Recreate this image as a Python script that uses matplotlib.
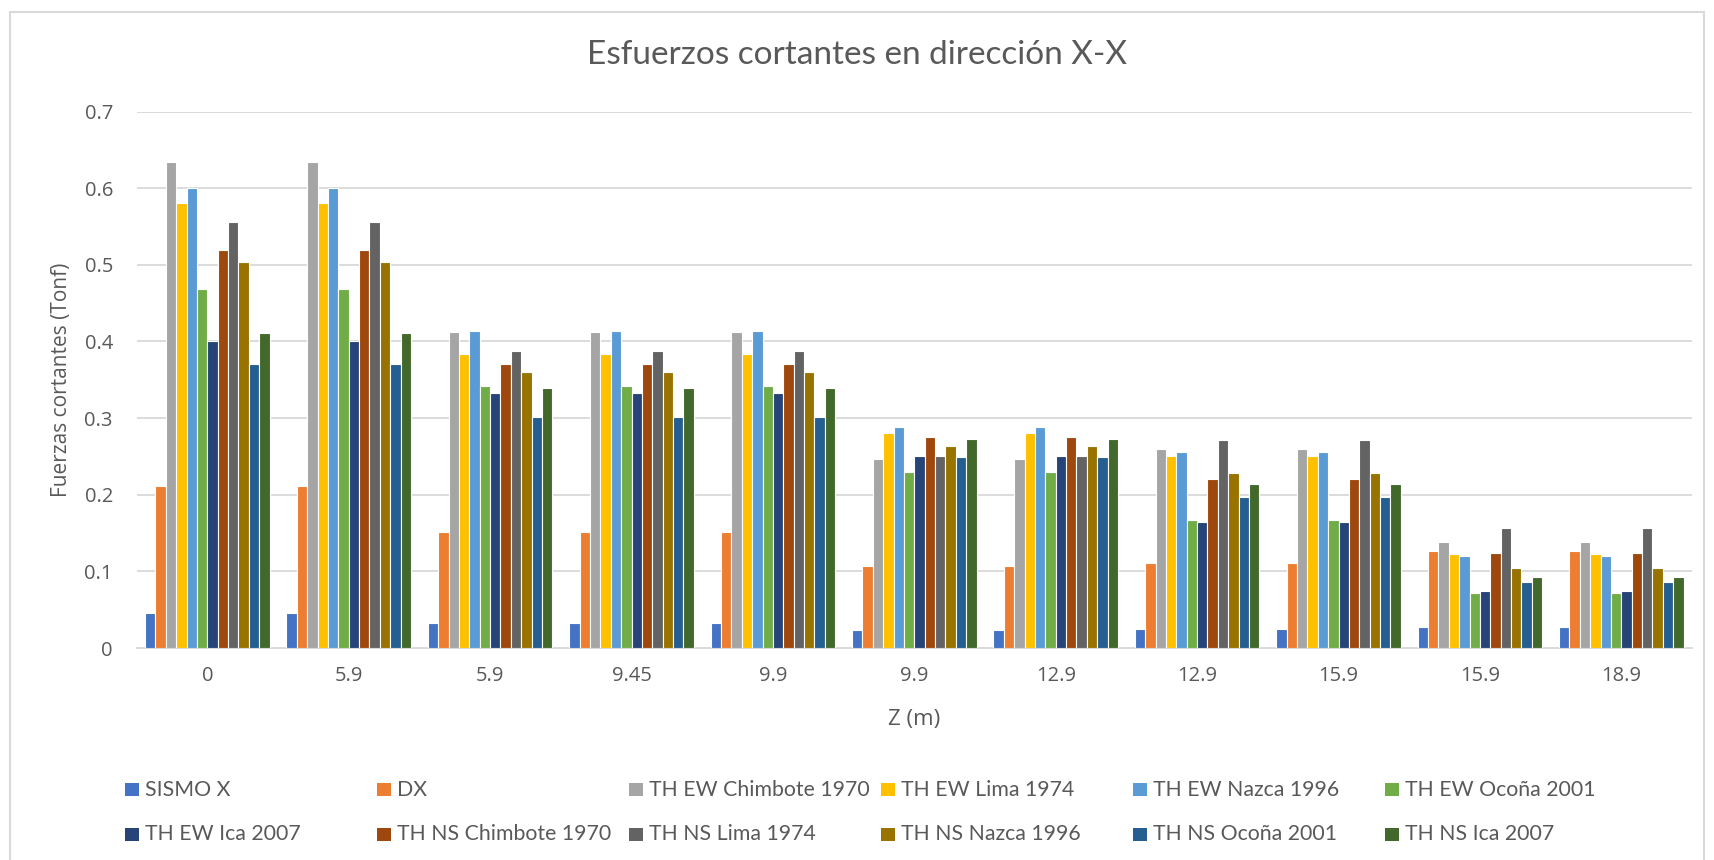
import numpy as np
import matplotlib
matplotlib.use('Agg')
import matplotlib.pyplot as plt
from matplotlib.patches import Rectangle

plt.rcParams['font.family'] = ['Open Sans', 'DejaVu Sans']

categories = ['0', '5.9', '5.9', '9.45', '9.9', '9.9', '12.9', '12.9', '15.9', '15.9', '18.9']

series_names = ['SISMO X', 'DX', 'TH EW Chimbote 1970', 'TH EW Lima 1974', 'TH EW Nazca 1996',
                'TH EW Ocoña 2001', 'TH EW Ica 2007', 'TH NS Chimbote 1970', 'TH NS Lima 1974',
                'TH NS Nazca 1996', 'TH NS Ocoña 2001', 'TH NS Ica 2007']

colors = ['#4472C4', '#ED7D31', '#A5A5A5', '#FFC000', '#5B9BD5', '#70AD47',
          '#264478', '#9E480E', '#636363', '#997300', '#255E91', '#43682B']

sismo_x = [0.046, 0.046, 0.033, 0.033, 0.033, 0.023, 0.023, 0.025, 0.025, 0.027, 0.027]
dx = [0.211, 0.211, 0.152, 0.152, 0.152, 0.107, 0.107, 0.111, 0.111, 0.127, 0.127]
ew_chimbote = [0.634, 0.634, 0.412, 0.412, 0.412, 0.247, 0.247, 0.259, 0.259, 0.138, 0.138]
ew_lima = [0.581, 0.581, 0.384, 0.384, 0.384, 0.281, 0.281, 0.250, 0.250, 0.123, 0.123]
ew_nazca = [0.600, 0.600, 0.413, 0.413, 0.413, 0.288, 0.288, 0.256, 0.256, 0.120, 0.120]
ew_ocona = [0.469, 0.469, 0.342, 0.342, 0.342, 0.230, 0.230, 0.167, 0.167, 0.072, 0.072]
ew_ica = [0.400, 0.400, 0.333, 0.333, 0.333, 0.251, 0.251, 0.165, 0.165, 0.074, 0.074]
ns_chimbote = [0.519, 0.519, 0.371, 0.371, 0.371, 0.275, 0.275, 0.220, 0.220, 0.124, 0.124]
ns_lima = [0.556, 0.556, 0.388, 0.388, 0.388, 0.251, 0.251, 0.271, 0.271, 0.156, 0.156]
ns_nazca = [0.504, 0.504, 0.360, 0.360, 0.360, 0.264, 0.264, 0.228, 0.228, 0.105, 0.105]
ns_ocona = [0.370, 0.370, 0.301, 0.301, 0.301, 0.249, 0.249, 0.197, 0.197, 0.086, 0.086]
ns_ica = [0.411, 0.411, 0.339, 0.339, 0.339, 0.273, 0.273, 0.214, 0.214, 0.093, 0.093]

all_series = [sismo_x, dx, ew_chimbote, ew_lima, ew_nazca, ew_ocona,
              ew_ica, ns_chimbote, ns_lima, ns_nazca, ns_ocona, ns_ica]

text_color = '#595959'
grid_color = '#D9D9D9'
W, H = 1714, 860

fig = plt.figure(figsize=(W / 100, H / 100), dpi=100)
ax = fig.add_axes([136.6 / W, 1 - 648 / H, (1692 - 136.6) / W, (648 - 111.5) / H])

x = np.arange(len(categories))
n = len(all_series)
group_w = 0.88
bar_w = group_w / n
for i, vals in enumerate(all_series):
    offs = -group_w / 2 + bar_w * (i + 0.5)
    ax.bar(x + offs, vals, width=bar_w, color=colors[i], edgecolor='white', linewidth=0.8, zorder=3)

ax.set_xlim(-0.5, len(categories) - 0.5)
ax.set_ylim(0, 0.7)
ax.set_yticks(np.arange(0, 0.71, 0.1))
ax.set_yticklabels(['0', '0.1', '0.2', '0.3', '0.4', '0.5', '0.6', '0.7'])
ax.set_xticks(x)
ax.set_xticklabels(categories)
ax.yaxis.grid(True, color=grid_color, linewidth=1.3, zorder=0)
ax.tick_params(axis='both', length=0, labelsize=14.5, colors=text_color)
ax.tick_params(axis='y', pad=17)
ax.tick_params(axis='x', pad=13)
for s in ['top', 'right', 'left']:
    ax.spines[s].set_visible(False)
ax.spines['bottom'].set_color(grid_color)
ax.spines['bottom'].set_linewidth(1.3)

ax.set_xlabel('Z (m)', fontsize=16, color=text_color)
ax.xaxis.set_label_coords(0.5, -(719 - 648) / (648 - 111.5))
ax.xaxis.label.set_va('center')
ax.set_ylabel('Fuerzas cortantes (Tonf)', fontsize=15, color=text_color)
ax.yaxis.set_label_coords(-(136.6 - 62) / (1692 - 136.6), 0.5)
ax.yaxis.label.set_va('center')

fig.text(0.5, 1 - 55 / H, 'Esfuerzos cortantes en dirección X-X', fontsize=24,
         family=['Lato', 'DejaVu Sans'], color=text_color, ha='center', va='center')

# legend, drawn by hand so the columns stay evenly spaced
for i, name in enumerate(series_names):
    col, row = i % 6, i // 6
    mx = 125 + 252 * col
    my = 789.5 + 44.5 * row
    fig.patches.append(Rectangle((mx / W, 1 - (my + 6.5) / H), 14 / W, 13 / H,
                                 transform=fig.transFigure, facecolor=colors[i], edgecolor='none'))
    fig.text((mx + 20) / W, 1 - my / H, name, fontsize=15.3, family=['Lato', 'DejaVu Sans'],
             color=text_color, ha='left', va='center')

# chart border (bottom edge falls outside the picture)
fig.patches.append(Rectangle((10 / W, -10 / H), (1704 - 10) / W, (H - 12 + 10) / H,
                             transform=fig.transFigure, facecolor='none', edgecolor=grid_color,
                             linewidth=1.5))

fig.savefig('out.png', dpi=100)
